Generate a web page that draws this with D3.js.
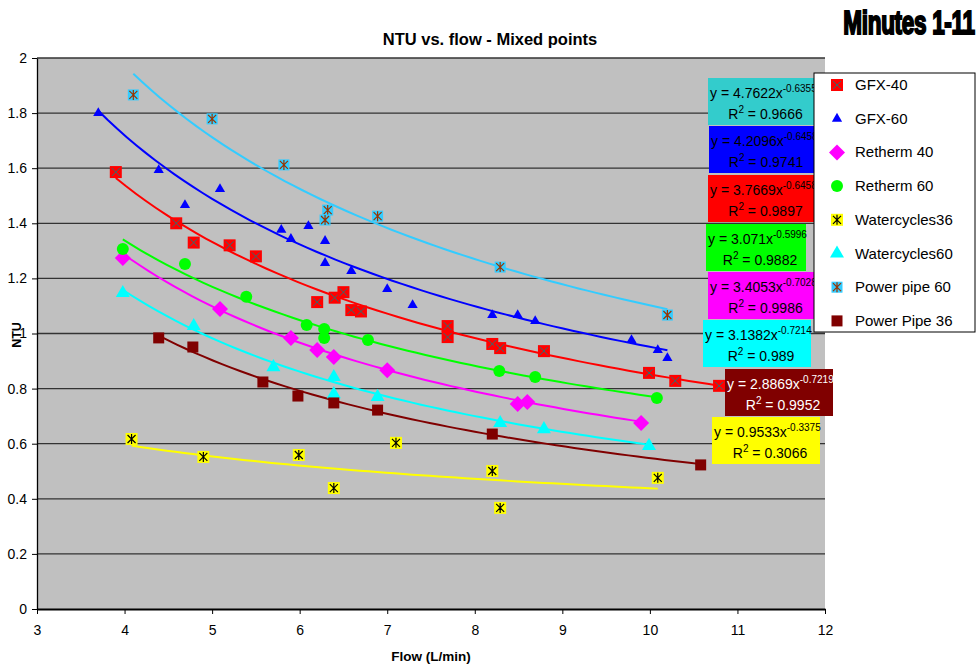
<!DOCTYPE html>
<html>
<head>
<meta charset="utf-8">
<script src="https://cdn.jsdelivr.net/npm/d3@7"></script>
<style>
  body { margin: 0; background: #fff; }
  text { font-family: "Liberation Sans", Arial, sans-serif; }
</style>
</head>
<body>
<svg id="chart" width="979" height="668"></svg>
<script>
// data: [flow, NTU]
const gfx40 = [[3.9,1.586],[4.59,1.40],[4.79,1.33],[5.2,1.32],[5.5,1.28],[6.2,1.114],[6.4,1.13],[6.5,1.15],
  [6.59,1.085],[6.7,1.08],[7.69,1.027],[7.69,0.987],[8.2,0.962],[8.29,0.947],[8.79,0.936],[9.99,0.857],[10.29,0.828],[10.79,0.81]];
const gfx60 = [[3.7,1.80],[4.39,1.593],[4.69,1.466],[5.09,1.524],[5.79,1.376],[5.9,1.343],[6.1,1.39],[6.29,1.336],
  [6.29,1.256],[6.59,1.227],[7.0,1.161],[7.29,1.103],[8.2,1.067],[8.49,1.067],[8.69,1.045],[9.79,0.976],[10.09,0.94],[10.2,0.911]];
const retherm40 = [[3.98,1.274],[5.09,1.089],[5.9,0.984],[6.2,0.94],[6.39,0.915],[7.0,0.867],[8.49,0.744],[8.6,0.751],[9.9,0.675]];
const retherm60 = [[3.98,1.307],[4.69,1.252],[5.39,1.133],[6.08,1.031],[6.28,1.016],[6.28,0.984],[6.78,0.976],[8.28,0.864],[8.69,0.842],[10.08,0.766]];
const watercycles36 = [[4.08,0.617],[4.9,0.552],[5.99,0.559],[6.39,0.439],[7.1,0.603],[8.2,0.501],[8.29,0.367],[10.09,0.476]];
const watercycles60 = [[3.98,1.147],[4.79,1.027],[5.7,0.878],[6.39,0.842],[6.39,0.78],[6.89,0.77],[8.29,0.675],[8.79,0.653],[9.99,0.592]];
const powerPipe60 = [[4.1,1.866],[5.0,1.779],[5.82,1.612],[6.32,1.448],[6.29,1.412],[6.89,1.426],[8.29,1.241],[10.2,1.067]];
const powerPipe36 = [[4.39,0.984],[4.78,0.951],[5.58,0.824],[5.98,0.773],[6.39,0.748],[6.89,0.722],[8.2,0.635],[10.58,0.523]];

const seriesNames = ["GFX-40","GFX-60","Retherm 40","Retherm 60","Watercycles36","Watercycles60","Power pipe 60","Power Pipe 36"];
const seriesData = [gfx40, gfx60, retherm40, retherm60, watercycles36, watercycles60, powerPipe60, powerPipe36];
// power trendlines y = a * x^b, as printed on the chart
const fitA = ["3.7669","4.2096","3.4053","3.071","0.9533","3.1382","4.7622","2.8869"];
const fitB = ["-0.6458","-0.6458","-0.7028","-0.5996","-0.3375","-0.7214","-0.6355","-0.7219"];
const fitR2 = ["0.9897","0.9741","0.9986","0.9882","0.3066","0.989","0.9666","0.9952"];

const xTicks = [3,4,5,6,7,8,9,10,11,12];
const yTicks = [0,0.2,0.4,0.6,0.8,1,1.2,1.4,1.6,1.8,2];

const lineColors = ["#ff0000","#0000ff","#ff00ff","#00ff00","#ffff00","#00ffff","#33ccff","#800000"];
const boxColors  = ["#ff0000","#0000ff","#ff00ff","#00ff00","#ffff00","#00ffff","#33cccc","#800000"];
const boxText    = ["#000","#000","#000","#000","#000","#000","#000","#fff"];
// equation label boxes: [x, y, w] per series
const boxPos = [[708,175,107],[709,126,106],[708,272,107],[706,224,100],[712,417,108],[703,320,108],[708,78,107],[725,369,108]];

const svg = d3.select("#chart");
const x = d3.scaleLinear().domain([3,12]).range([37,825]);
const y = d3.scaleLinear().domain([0,2]).range([609,58]);

svg.append("rect").attr("x", x(3)).attr("y", y(2)).attr("width", x(12)-x(3)).attr("height", y(0)-y(2))
  .attr("fill", "#c0c0c0");

svg.append("g").selectAll("line").data(yTicks.filter(d => d > 0)).join("line")
  .attr("x1", x(3)).attr("x2", x(12)).attr("y1", d => y(d)).attr("y2", d => y(d))
  .attr("stroke", "#333").attr("stroke-width", 1.3);

svg.append("g").attr("transform", `translate(${x(3)},0)`)
  .call(d3.axisLeft(y).tickValues(yTicks).tickFormat(d3.format("")).tickSize(5).tickSizeOuter(0))
  .call(g => g.selectAll("text").attr("font-size", 14).attr("fill", "#000").attr("font-family", "Liberation Sans, Arial").attr("dx", -2))
  .call(g => g.select(".domain").attr("stroke", "#000").attr("stroke-width", 1.3));

svg.append("g").attr("transform", `translate(0,${y(0)})`)
  .call(d3.axisBottom(x).tickValues(xTicks).tickFormat(d3.format("d")).tickSize(5).tickSizeOuter(0))
  .call(g => g.selectAll("text").attr("font-size", 14).attr("fill", "#000").attr("font-family", "Liberation Sans, Arial").attr("dy", "1.3em"))
  .call(g => g.select(".domain").attr("stroke", "#000").attr("stroke-width", 2));

// trendlines
const line = d3.line().x(d => x(d[0])).y(d => y(d[1]));
seriesData.forEach((pts, i) => {
  const [lo, hi] = d3.extent(pts, d => d[0]);
  const a = +fitA[i], b = +fitB[i];
  const curve = d3.range(0, 61).map(k => { const fx = lo + (hi - lo) * k / 60; return [fx, a * Math.pow(fx, b)]; });
  svg.append("path").datum(curve).attr("d", line).attr("fill", "none")
    .attr("stroke", lineColors[i]).attr("stroke-width", 2);
});

// markers
function marker(g, i) {
  if (i === 0) {
    g.append("rect").attr("x", -6).attr("y", -6).attr("width", 12).attr("height", 12).attr("fill", "#ff0000");
    g.append("path").attr("d", "M-4,-4L4,4M-4,4L4,-4").attr("stroke", "#2f6f6f").attr("stroke-width", 1);
  } else if (i === 1) {
    g.append("path").attr("d", d3.symbol(d3.symbolTriangle, 45)()).attr("fill", "#0000ff");
  } else if (i === 2) {
    g.append("path").attr("d", "M0,-8L8,0L0,8L-8,0Z").attr("fill", "#ff00ff");
  } else if (i === 3) {
    g.append("circle").attr("r", 6).attr("fill", "#00ff00");
  } else if (i === 4) {
    g.append("rect").attr("x", -6).attr("y", -6).attr("width", 12).attr("height", 12).attr("fill", "#ffff00");
    g.append("path").attr("d", "M-4,-4L4,4M-4,4L4,-4M0,-5L0,5").attr("stroke", "#000").attr("stroke-width", 1.2);
  } else if (i === 5) {
    g.append("path").attr("d", d3.symbol(d3.symbolTriangle, 85)()).attr("fill", "#00ffff");
  } else if (i === 6) {
    g.append("rect").attr("x", -5.5).attr("y", -5.5).attr("width", 11).attr("height", 11).attr("fill", "#33ccff");
    g.append("path").attr("d", "M-4,-4L4,4M-4,4L4,-4M0,-5L0,5").attr("stroke", "#993300").attr("stroke-width", 1.2);
  } else {
    g.append("rect").attr("x", -5.5).attr("y", -5.5).attr("width", 11).attr("height", 11).attr("fill", "#800000");
  }
}
seriesData.forEach((pts, i) => {
  svg.append("g").selectAll("g").data(pts).join("g")
    .attr("transform", d => `translate(${x(d[0])},${y(d[1])})`)
    .each(function () { marker(d3.select(this), i); });
});

// equation boxes
seriesData.forEach((pts, i) => {
  const [bx, by, bw] = boxPos[i];
  const g = svg.append("g").attr("transform", `translate(${bx},${by})`);
  g.append("rect").attr("width", bw).attr("height", 47).attr("fill", boxColors[i]);
  const t1 = g.append("text").attr("x", 2).attr("y", 20).attr("font-size", 14).attr("fill", boxText[i]);
  t1.append("tspan").text(`y = ${fitA[i]}x`);
  t1.append("tspan").attr("dy", -6).attr("font-size", 10).text(fitB[i]);
  const t2 = g.append("text").attr("x", bw / 2 + 4).attr("y", 41).attr("font-size", 14)
    .attr("text-anchor", "middle").attr("fill", boxText[i]);
  t2.append("tspan").text("R");
  t2.append("tspan").attr("dy", -6).attr("font-size", 10).text("2");
  t2.append("tspan").attr("dy", 6).text(` = ${fitR2[i]}`);
});

// legend
const lg = svg.append("g").attr("transform", "translate(814,73)");
lg.append("rect").attr("width", 161).attr("height", 259).attr("fill", "#fff").attr("stroke", "#000").attr("stroke-width", 1);
seriesNames.forEach((n, i) => {
  const row = lg.append("g").attr("transform", `translate(23,${12 + i * 33.7})`);
  marker(row, i);
  row.append("text").attr("x", 18).attr("y", 5).attr("font-size", 15).text(n);
});

// titles
svg.append("text").attr("x", 490).attr("y", 45).attr("text-anchor", "middle")
  .attr("font-size", 16.5).attr("font-weight", "bold").text("NTU vs. flow - Mixed points");
svg.append("text").attr("x", 431).attr("y", 661).attr("text-anchor", "middle")
  .attr("font-size", 13.5).attr("font-weight", "bold").text("Flow (L/min)");
svg.append("text").attr("transform", "translate(21,335) rotate(-90)").attr("text-anchor", "middle")
  .attr("font-size", 12.5).attr("font-weight", "bold").text("NTU");
svg.append("text").attr("transform", "translate(909,34) scale(1,1.45)").attr("text-anchor", "middle")
  .attr("font-family", "Liberation Sans Narrow, Arial Narrow, sans-serif").attr("font-size", 22.5)
  .attr("font-weight", "bold").attr("stroke", "#000").attr("stroke-width", 1.4).attr("letter-spacing", -0.3)
  .text("Minutes 1-11");
</script>
</body>
</html>
